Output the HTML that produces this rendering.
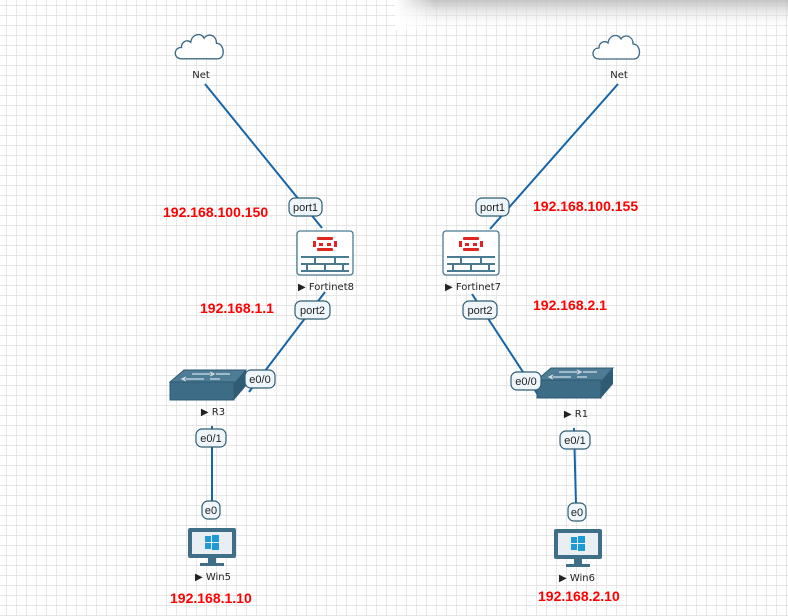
<!DOCTYPE html>
<html><head><meta charset="utf-8"><style>
html,body{margin:0;padding:0;background:#fff;}
svg{display:block;font-family:"Liberation Sans",sans-serif;}
.lbl{font-size:11px;fill:#222;text-anchor:middle;font-family:"DejaVu Sans",sans-serif;font-size:10px;}
.ip{font-size:14px;font-weight:bold;fill:#f00;}
.pt{font-size:11px;fill:#222;text-anchor:middle;}
</style></head><body>
<svg width="788" height="616" viewBox="0 0 788 616" xmlns="http://www.w3.org/2000/svg">
<defs>
<pattern id="g" x="6" y="5" width="10" height="10" patternUnits="userSpaceOnUse">
<path d="M0 0H10M0 0V10" stroke="#dedede" stroke-width="1.4" fill="none"/>
</pattern>
<linearGradient id="sh" x1="0" y1="0" x2="0" y2="1">
<stop offset="0" stop-color="#bdbdbd" stop-opacity="0.9"/>
<stop offset="1" stop-color="#fff" stop-opacity="0"/>
</linearGradient>
<linearGradient id="shl" x1="0" y1="0" x2="1" y2="0">
<stop offset="0" stop-color="#fff" stop-opacity="1"/>
<stop offset="1" stop-color="#fff" stop-opacity="0"/>
</linearGradient>
<g id="fw">
<rect x="0" y="0" width="56" height="44" rx="3" fill="#fff" stroke="#4a7a92" stroke-width="1.3"/>
<g fill="#e02424">
<rect x="20" y="6" width="16" height="3" rx="1"/><rect x="20" y="17" width="16" height="3" rx="1"/>
<rect x="16" y="10" width="3" height="6"/><rect x="37" y="10" width="3" height="6"/>
<rect x="22" y="12" width="4" height="3"/><rect x="30" y="12" width="4" height="3"/>
</g>
<g stroke="#4a7a92" stroke-width="2" fill="none">
<path d="M4 26H52M4 33H52M4 40H52M18 26V33M38 26V33M10 33V40M28 33V40M46 33V40"/>
</g>
</g>
<g id="sw">
<path d="M0 12 L14 0 H76 L64 14 Z" fill="#4f7c95" stroke="#2e5a72" stroke-width="1"/>
<path d="M0 12 H64 V30 H0 Z" fill="#3d6c86" stroke="#2e5a72"/>
<path d="M64 14 L76 0 V16 L64 30 Z" fill="#2f5c74"/>
<g stroke="#cfe0ea" stroke-width="1.2">
<path d="M22 4H44M40 2L44 4 40 6M34 9H12M16 7L12 9 16 11M46 4H60M50 9H40"/>
</g>
</g>
<g id="pc">
<rect x="0" y="0" width="48" height="30" rx="2" fill="#3f6e88"/>
<rect x="4" y="4" width="40" height="22" fill="#e8eef2"/>
<g fill="#1e9ad6"><rect x="17" y="8" width="6" height="6"/><rect x="24" y="7" width="7" height="7"/><rect x="17" y="15" width="6" height="6"/><rect x="24" y="15" width="7" height="7"/></g>
<rect x="20" y="30" width="8" height="5" fill="#3f6e88"/><rect x="12" y="35" width="24" height="3" fill="#3f6e88"/>
</g>
<path id="cl" d="M6 28 C-2 28 -2 17 6 17 C6 11 12 9 15 12 C16 4 25 2 28 8 C31 3 40 4 40 13 C48 13 49 28 41 28 Z" fill="#fff" stroke="#3d6a85" stroke-width="1.3"/>
</defs>
<rect width="788" height="616" fill="url(#g)"/>
<rect x="395" y="0" width="393" height="30" fill="url(#sh)"/>
<rect x="395" y="0" width="40" height="30" fill="url(#shl)"/>

<g stroke="#1565a8" stroke-width="2" fill="none">
<line x1="205" y1="84" x2="322" y2="228"/>
<line x1="325" y1="292" x2="249" y2="392"/>
<line x1="212" y1="426" x2="212" y2="504"/>
<line x1="618" y1="84" x2="490" y2="229"/>
<line x1="472" y1="294" x2="540" y2="398"/>
<line x1="574" y1="428" x2="576" y2="505"/>
</g>

<use href="#cl" x="176" y="31" transform="translate(-6,-2) scale(1.03)"/>
<text class="lbl" x="201" y="78">Net</text>
<use href="#cl" x="593" y="31"/>
<text class="lbl" x="619" y="78">Net</text>

<use href="#fw" x="297" y="231"/>
<text class="lbl" x="326" y="290">▶ Fortinet8</text>
<use href="#fw" x="443" y="231"/>
<text class="lbl" x="473" y="290">▶ Fortinet7</text>

<use href="#sw" x="170" y="370"/>
<text class="lbl" x="213" y="415">▶ R3</text>
<use href="#sw" x="537" y="368"/>
<text class="lbl" x="576" y="417">▶ R1</text>

<use href="#pc" x="188" y="528"/>
<text class="lbl" x="213" y="580">▶ Win5</text>
<use href="#pc" x="554" y="529"/>
<text class="lbl" x="577" y="581">▶ Win6</text>

<g fill="#eef6fb" stroke="#2f5c74" stroke-width="1.2">
<rect x="289" y="198" width="33" height="18" rx="6"/>
<rect x="476" y="198" width="33" height="18" rx="6"/>
<rect x="295" y="301" width="35" height="18" rx="6"/>
<rect x="463" y="301" width="34" height="18" rx="6"/>
<rect x="245" y="370" width="30" height="18" rx="6"/>
<rect x="511" y="372" width="30" height="18" rx="6"/>
<rect x="196" y="429" width="30" height="18" rx="6"/>
<rect x="560" y="431" width="30" height="18" rx="6"/>
<rect x="202" y="501" width="18" height="18" rx="6"/>
<rect x="568" y="503" width="18" height="18" rx="6"/>
</g>
<g class="pt">
<text x="305.5" y="211" class="pt">port1</text>
<text x="492.5" y="211" class="pt">port1</text>
<text x="312.5" y="314" class="pt">port2</text>
<text x="480" y="314" class="pt">port2</text>
<text x="260" y="383" class="pt">e0/0</text>
<text x="526" y="385" class="pt">e0/0</text>
<text x="211" y="442" class="pt">e0/1</text>
<text x="575" y="444" class="pt">e0/1</text>
<text x="211" y="514" class="pt">e0</text>
<text x="577" y="516" class="pt">e0</text>
</g>

<text class="ip" x="163" y="217">192.168.100.150</text>
<text class="ip" x="533" y="211">192.168.100.155</text>
<text class="ip" x="200" y="313">192.168.1.1</text>
<text class="ip" x="533" y="310">192.168.2.1</text>
<text class="ip" x="170" y="603">192.168.1.10</text>
<text class="ip" x="538" y="601">192.168.2.10</text>
</svg>
</body></html>
